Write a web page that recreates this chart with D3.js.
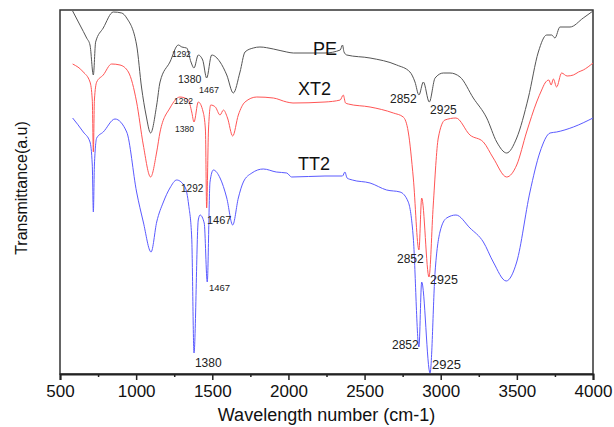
<!DOCTYPE html>
<html>
<head>
<meta charset="utf-8">
<script src="https://cdn.jsdelivr.net/npm/d3@7"></script>
<style>
  body { margin: 0; background: #fff; }
  text { font-family: "Liberation Sans", Arial, sans-serif; }
</style>
</head>
<body>
<div id="chart"></div>
<script>
/* DATA (wavenumber cm-1, transmittance a.u.) */
const peWave = [583, 631, 675, 697, 719, 734, 784, 850, 905, 938, 1003, 1036, 1065, 1095, 1135, 1157, 1222, 1277, 1300, 1332, 1360, 1380, 1408, 1437, 1463, 1496, 1551, 1595, 1638, 1682, 1715, 1769, 1813, 1901, 1989, 2032, 2240, 2340, 2355, 2365, 2383, 2536, 2711, 2798, 2831, 2857, 2886, 2925, 2963, 3017, 3061, 3127, 3214, 3302, 3368, 3433, 3499, 3575, 3641, 3696, 3729, 3750, 3783, 3849, 3936, 4000];
const peT = [363, 349, 336, 329, 299, 332, 346, 362, 361, 356, 329, 286, 259, 241, 269, 292, 312, 329, 327, 326, 312, 306, 319, 314, 296, 319, 312, 299, 281, 302, 322, 326, 327, 325, 322, 321, 321, 324, 329, 322, 319, 316, 309, 302, 292, 279, 292, 272, 296, 301, 301, 297, 276, 256, 232, 221, 236, 276, 322, 339, 339, 336, 347, 347, 356, 363];

const xtWave = [583, 653, 697, 712, 719, 726, 741, 784, 839, 894, 949, 1003, 1047, 1095, 1135, 1157, 1222, 1288, 1343, 1365, 1380, 1408, 1440, 1455, 1463, 1475, 1490, 1520, 1551, 1573, 1600, 1634, 1671, 1715, 1792, 1901, 1989, 2030, 2240, 2340, 2360, 2375, 2393, 2536, 2689, 2754, 2787, 2820, 2857, 2875, 2923, 2951, 2984, 3028, 3100, 3192, 3280, 3345, 3433, 3499, 3564, 3630, 3663, 3685, 3710, 3725, 3740, 3761, 3794, 3830, 3871, 3905, 3936, 4000];
const xtT = [310, 302, 292, 274, 222, 274, 292, 299, 310, 309, 302, 272, 229, 197, 222, 242, 266, 277, 274, 262, 252, 272, 262, 244, 166, 244, 269, 267, 259, 264, 256, 238, 259, 272, 277, 276, 272, 271, 272, 274, 279, 271, 270, 267, 261, 257, 242, 196, 124, 176, 97, 169, 236, 254, 256, 239, 232, 216, 197, 209, 242, 272, 284, 291, 294, 289, 295, 287, 301, 298, 299, 302, 304, 311];

const ttWave = [583, 653, 697, 712, 719, 726, 741, 784, 861, 938, 1003, 1047, 1098, 1135, 1179, 1222, 1266, 1321, 1345, 1365, 1380, 1408, 1420, 1447, 1467, 1485, 1507, 1551, 1595, 1634, 1671, 1704, 1760, 1835, 1920, 1989, 2021, 2240, 2355, 2371, 2385, 2420, 2536, 2645, 2733, 2787, 2820, 2857, 2875, 2930, 2963, 2995, 3039, 3100, 3192, 3280, 3345, 3430, 3499, 3586, 3652, 3718, 3761, 3871, 4000];
const ttT = [256, 242, 232, 209, 162, 209, 236, 242, 255, 242, 182, 152, 122, 152, 172, 186, 194, 187, 169, 136, 21, 154, 159, 151, 92, 192, 204, 196, 176, 149, 176, 192, 201, 205, 202, 201, 197, 198, 198, 202, 196, 194, 191, 184, 182, 172, 136, 27, 92, 1, 102, 142, 156, 159, 146, 132, 112, 93, 112, 182, 222, 241, 242, 247, 256];

const seriesNames = ["PE", "XT2", "TT2"];
const xTicks = [500, 1000, 1500, 2000, 2500, 3000, 3500, 4000];
const xMinorTicks = [750, 1250, 1750, 2250, 2750, 3250, 3750];

// peak labels: [text, wavenumber at left edge, a.u. at baseline]
const peakLabels = [
  ["1292", 1235, 317], ["1380", 1275, 291], ["1467", 1413, 281],
  ["1292", 1249, 270], ["1380", 1255, 242], ["1292", 1295, 182],
  ["1467", 1465, 150], ["1467", 1478, 83], ["1380", 1386, 7],
  ["2852", 2667, 271], ["2925", 2930, 260],
  ["2852", 2713, 111], ["2925", 2930, 90],
  ["2852", 2680, 25], ["2925", 2943, 5]
];
// series name positions: [wavenumber at left edge, a.u. at baseline]
const nameSpots = [[2161, 319], [2063, 279], [2063, 204]];

/* LAYOUT */
const width = 614, height = 427,
  margin = { top: 10, right: 21, bottom: 53, left: 60 };
const labelSizes = [8.5, 10.5, 9, 8.5, 8.5, 10, 11, 9.5, 12, 12, 12, 12, 12.5, 12, 13];
const colors = ["#555555", "#ff5555", "#5a5aff"];

const svg = d3.select("#chart").append("svg")
  .attr("width", width)
  .attr("height", height);

const xScale = d3.scaleLinear()
  .domain([500, 4000])
  .range([margin.left, width - margin.right]);

const yScale = d3.scaleLinear()
  .domain([0, 364])
  .range([height - margin.bottom, margin.top]);

// frame
svg.append("rect")
  .attr("x", margin.left)
  .attr("y", margin.top)
  .attr("width", width - margin.left - margin.right)
  .attr("height", height - margin.top - margin.bottom)
  .attr("fill", "none")
  .attr("stroke", "#333")
  .attr("stroke-width", 1.5);

// lines
const lineGen = d3.line()
  .x(d => xScale(d[0]))
  .y(d => yScale(d[1]))
  .curve(d3.curveMonotoneX);

const allSeries = [
  d3.zip(peWave, peT),
  d3.zip(xtWave, xtT),
  d3.zip(ttWave, ttT)
];

svg.selectAll("path.spectrum")
  .data(allSeries)
  .join("path")
  .attr("class", "spectrum")
  .attr("fill", "none")
  .attr("stroke", (d, i) => colors[i])
  .attr("stroke-width", 1)
  .attr("d", lineGen);

// axes
const xAxis = d3.axisBottom(xScale)
  .tickValues(xTicks)
  .tickSize(6)
  .tickPadding(5)
  .tickFormat(d3.format("d"));

const xAxisGroup = svg.append("g")
  .attr("transform", `translate(0, ${height - margin.bottom})`)
  .call(xAxis);

xAxisGroup.select(".domain").attr("stroke", "#222").attr("stroke-width", 2);
xAxisGroup.selectAll(".tick line").attr("stroke", "#222").attr("stroke-width", 1.5);
xAxisGroup.selectAll(".tick text")
  .attr("font-size", 17)
  .attr("font-family", "Liberation Sans, Arial, sans-serif")
  .attr("fill", "#111");

const minorAxis = d3.axisBottom(xScale)
  .tickValues(xMinorTicks)
  .tickSize(3)
  .tickFormat("");

svg.append("g")
  .attr("transform", `translate(0, ${height - margin.bottom})`)
  .call(minorAxis)
  .call(g => g.select(".domain").remove())
  .selectAll(".tick line").attr("stroke", "#222").attr("stroke-width", 1.5);

svg.append("text")
  .attr("x", (xScale(500) + xScale(4000)) / 2)
  .attr("y", 421)
  .attr("text-anchor", "middle")
  .attr("font-size", 18)
  .attr("fill", "#111")
  .text("Wavelength number (cm-1)");

svg.append("text")
  .attr("transform", `translate(27, ${188}) rotate(-90)`)
  .attr("text-anchor", "middle")
  .attr("font-size", 16)
  .attr("fill", "#111")
  .text("Transmittance(a.u)");

// series names
svg.selectAll("text.name")
  .data(seriesNames)
  .join("text")
  .attr("class", "name")
  .attr("x", (d, i) => xScale(nameSpots[i][0]))
  .attr("y", (d, i) => yScale(nameSpots[i][1]))
  .attr("font-size", 18)
  .attr("fill", "#111")
  .text(d => d);

// peak labels
svg.selectAll("text.peak")
  .data(peakLabels)
  .join("text")
  .attr("class", "peak")
  .attr("x", d => xScale(d[1]))
  .attr("y", d => yScale(d[2]))
  .attr("font-size", (d, i) => labelSizes[i])
  .attr("fill", "#222")
  .text(d => d[0]);
</script>
</body>
</html>
